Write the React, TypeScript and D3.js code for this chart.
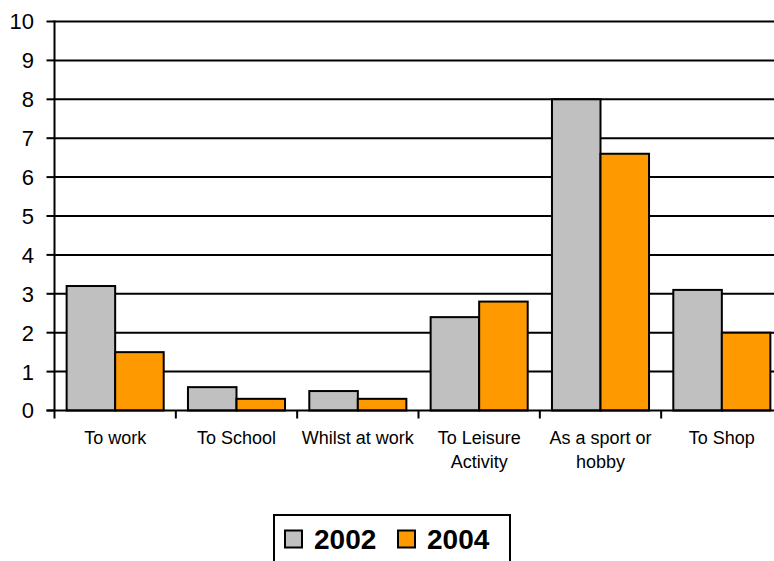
import React from "react";
import * as d3 from "d3";

const categories = ["To work", "To School", "Whilst at work", "To Leisure Activity", "As a sport or hobby", "To Shop"];
const categoryLines = [["To work"], ["To School"], ["Whilst at work"], ["To Leisure", "Activity"], ["As a sport or", "hobby"], ["To Shop"]];
const series = ["2002", "2004"];
const values2002 = [3.2, 0.6, 0.5, 2.4, 8.0, 3.1];
const values2004 = [1.5, 0.3, 0.3, 2.8, 6.6, 2.0];
const yTicks = [0, 1, 2, 3, 4, 5, 6, 7, 8, 9, 10];
const colors = ["#c0c0c0", "#ff9900"];

export default function App() {
  const left = 54.5, right = 782.5, top = 21.5, bottom = 410.5;
  const x = d3.scaleBand<string>().domain(categories).range([left, right]).paddingInner(0).paddingOuter(0);
  const y = d3.scaleLinear().domain([0, 10]).range([bottom, top]);
  const bw = x.bandwidth();
  const pad = bw * 0.1;
  const inner = d3.scaleBand<string>().domain(series).range([pad, bw - pad]);
  const data = [values2002, values2004];
  const font = "'Liberation Sans', Arial, sans-serif";
  return (
    <svg width={774} height={561} style={{ position: "absolute", left: 0, top: 0 }} fontFamily={font}>
      <rect width={774} height={561} fill="#fff" />
      {yTicks.map((t) => (
        <g key={t}>
          {t > 0 && <line x1={left} x2={right} y1={y(t)} y2={y(t)} stroke="#000" strokeWidth={2} />}
          <line x1={left - 8} x2={left} y1={y(t)} y2={y(t)} stroke="#000" strokeWidth={2} />
          <text x={34} y={y(t)} dy="0.36em" textAnchor="end" fontSize={22}>{t}</text>
        </g>
      ))}
      {categories.map((c, i) => (
        <g key={c}>
          {series.map((s, j) => (
            <rect key={s} x={(x(c) as number) + (inner(s) as number)} y={y(data[j][i])} width={inner.bandwidth()} height={bottom - y(data[j][i])} fill={colors[j]} stroke="#000" strokeWidth={2} />
          ))}
          {categoryLines[i].map((ln, k) => (
            <text key={k} x={(x(c) as number) + bw / 2} y={444 + k * 23.5} textAnchor="middle" fontSize={18}>{ln}</text>
          ))}
        </g>
      ))}
      {categories.map((c) => (
        <line key={"t" + c} x1={(x(c) as number) + bw} x2={(x(c) as number) + bw} y1={bottom} y2={bottom + 8} stroke="#000" strokeWidth={2} />
      ))}
      <line x1={left} x2={left} y1={top - 1} y2={bottom + 8} stroke="#000" strokeWidth={2} />
      <line x1={left - 8} x2={right} y1={bottom} y2={bottom} stroke="#000" strokeWidth={2} />
      <g>
        <rect x={274} y={515} width={236} height={60} fill="#fff" stroke="#000" strokeWidth={2} />
        {series.map((s, j) => (
          <g key={s} transform={`translate(${285 + j * 113},0)`}>
            <rect x={0} y={530.5} width={17} height={17} fill={colors[j]} stroke="#000" strokeWidth={2} />
            <text x={29} y={549} fontSize={28} fontWeight="bold">{s}</text>
          </g>
        ))}
      </g>
    </svg>
  );
}
